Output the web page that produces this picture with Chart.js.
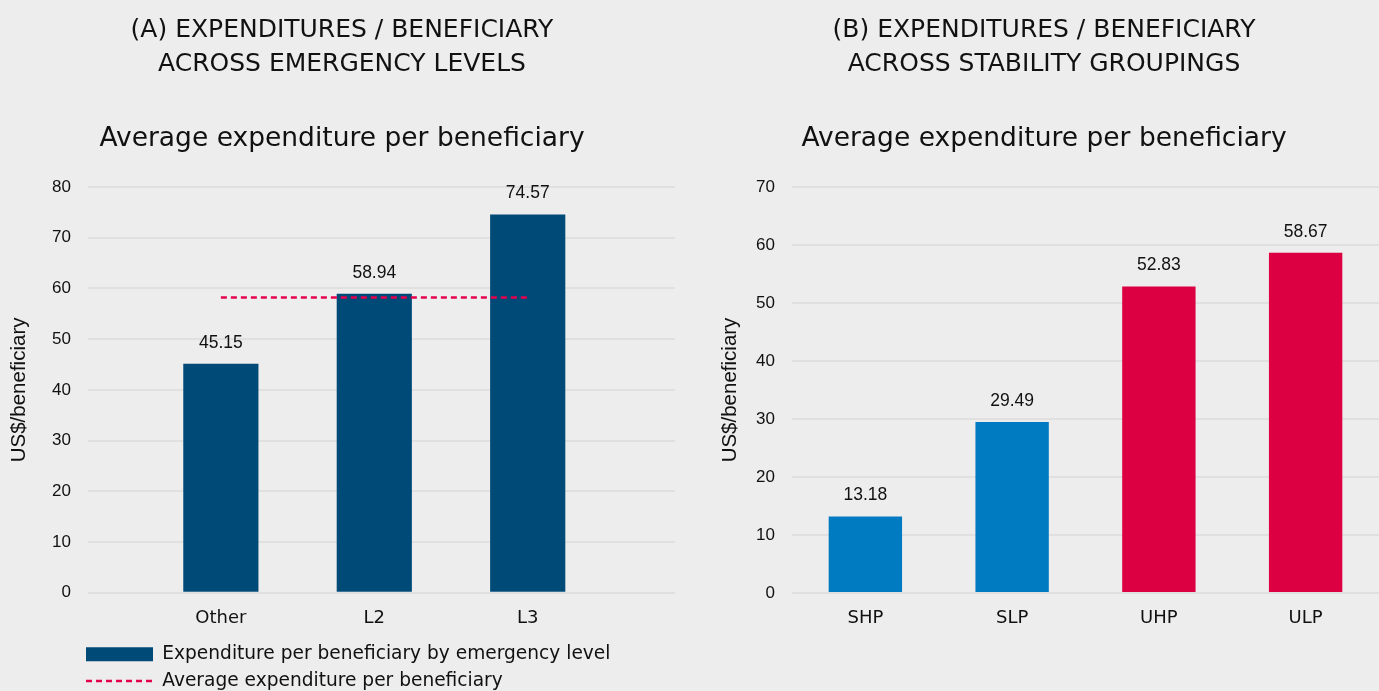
<!DOCTYPE html>
<html>
<head>
<meta charset="utf-8">
<script src="https://cdn.jsdelivr.net/npm/chart.js@4"></script>
<style>
    body { margin: 0; background: #ededed; width: 1379px; height: 691px; overflow: hidden; position: relative; }
    .panel { position: absolute; top: 0; height: 691px; }
    #panel-a { left: 0; width: 684px; }
    #panel-b { left: 709px; width: 670px; }
</style>
</head>
<body>
<div class="panel" id="panel-a"><canvas id="chart-a"></canvas></div>
<div class="panel" id="panel-b"><canvas id="chart-b"></canvas></div>
<script>
// Data
const levelLabels = ['Other', 'L2', 'L3'];
const levelValues = [45.15, 58.94, 74.57];
const levelAverage = 58.2;

const groupLabels = ['SHP', 'SLP', 'UHP', 'ULP'];
const groupValues = [13.18, 29.49, 52.83, 58.67];
const groupColors = ['#007ac0', '#007ac0', '#dc0042', '#dc0042'];

const leftTicks = [0, 10, 20, 30, 40, 50, 60, 70, 80];
const rightTicks = [0, 10, 20, 30, 40, 50, 60, 70];

const darkBlue = '#004a78';
const avgRed = '#e3004c';
const avgDash = [6, 4];
const textColor = '#111111';
const gridColor = '#e0e0e0';

// Shared pieces
const titleFont = { family: 'DejaVu Sans', size: 25, weight: 'normal', lineHeight: 1.36 };
const subtitleFont = { family: 'DejaVu Sans', size: 26.5, weight: 'normal', lineHeight: 1.2 };

// value labels above bars
const valueLabels = {
    id: 'valueLabels',
    afterDatasetsDraw(chart, args, opts) {
        const ctx = chart.ctx;
        const meta = chart.getDatasetMeta(0);
        ctx.save();
        ctx.font = '17.5px "Liberation Sans"';
        ctx.fillStyle = textColor;
        ctx.textAlign = 'center';
        ctx.textBaseline = 'middle';
        meta.data.forEach((bar, i) => {
            ctx.fillText(opts.values[i].toFixed(2), bar.x, bar.y - 21);
        });
        ctx.restore();
    }
};

// move the legend to sit under the plot, left aligned
const legendShift = {
    id: 'legendShift',
    afterLayout(chart) {
        if (!chart.legend) return;
        chart.legend.left += 69;
        chart.legend.top += 7.6;
    }
};

function yScale(max, ticks, titlePad, width) {
    return {
        min: 0,
        max: max,
        afterBuildTicks: axis => { axis.ticks = ticks.map(v => ({ value: v })); },
        afterFit: scale => { scale.width = width; },
        grid: { color: gridColor, lineWidth: 2, drawTicks: false },
        border: { display: false },
        ticks: {
            padding: 17,
            color: textColor,
            font: { family: 'Liberation Sans', size: 17 }
        },
        title: {
            display: true,
            text: 'US$/beneficiary',
            color: textColor,
            font: { family: 'Liberation Sans', size: 20.5, lineHeight: 1 },
            padding: { top: titlePad, bottom: 0 }
        }
    };
}

const xTicks = {
    padding: 15,
    color: textColor,
    font: { family: 'DejaVu Sans', size: 18 }
};

function titles(lines) {
    return {
        title: {
            display: true,
            text: lines,
            color: textColor,
            font: titleFont,
            padding: { top: 13, bottom: 0 }
        },
        subtitle: {
            display: true,
            text: 'Average expenditure per beneficiary',
            color: textColor,
            font: subtitleFont,
            padding: { top: 42.1, bottom: 32.1 }
        }
    };
}

// (A) emergency levels
new Chart(document.getElementById('chart-a'), {
    type: 'bar',
    data: {
        datasets: [{
            label: 'Expenditure per beneficiary by emergency level',
            data: levelValues.map((v, i) => ({ x: i, y: v })),
            backgroundColor: darkBlue,
            borderWidth: 0,
            barPercentage: 0.49,
            categoryPercentage: 1,
            order: 1
        }, {
            type: 'line',
            label: 'Average expenditure per beneficiary',
            data: levelLabels.map((c, i) => ({ x: i, y: levelAverage })),
            borderColor: avgRed,
            borderWidth: 2.5,
            borderDash: avgDash,
            pointRadius: 0,
            fill: false,
            order: 0
        }]
    },
    options: {
        responsive: true,
        maintainAspectRatio: false,
        animation: false,
        layout: { padding: { left: 9, right: 9, top: 0, bottom: -1.6 } },
        scales: {
            x: {
                type: 'linear',
                offset: false,
                min: -0.866,
                max: 2.96,
                afterBuildTicks: axis => { axis.ticks = levelLabels.map((c, i) => ({ value: i })); },
                afterFit: scale => { scale.height = 36.6; },
                grid: { display: false, drawTicks: false },
                border: { display: false },
                ticks: { ...xTicks, callback: v => levelLabels[v] }
            },
            y: yScale(80, leftTicks, 0, 79)
        },
        plugins: {
            ...titles(['(A) EXPENDITURES / BENEFICIARY', 'ACROSS EMERGENCY LEVELS']),
            legend: {
                display: true,
                position: 'bottom',
                align: 'start',
                labels: {
                    usePointStyle: true,
                    pointStyleWidth: 67,
                    boxHeight: 14,
                    padding: 8,
                    color: textColor,
                    font: { family: 'DejaVu Sans', size: 18.6 },
                    sort: (a, b) => a.datasetIndex - b.datasetIndex,
                    generateLabels: chart => {
                        const items = Chart.defaults.plugins.legend.labels.generateLabels(chart);
                        items.forEach(it => {
                            if (it.datasetIndex === 0) {
                                it.pointStyle = 'rect';
                            } else {
                                it.pointStyle = 'line';
                                it.strokeStyle = avgRed;
                                it.lineDash = avgDash;
                                it.lineWidth = 2.5;
                            }
                        });
                        return items;
                    }
                }
            },
            tooltip: { enabled: false },
            valueLabels: { values: levelValues }
        }
    },
    plugins: [valueLabels, legendShift]
});

// (B) stability groupings
new Chart(document.getElementById('chart-b'), {
    type: 'bar',
    data: {
        labels: groupLabels,
        datasets: [{
            label: 'Expenditure per beneficiary',
            data: groupValues,
            backgroundColor: groupColors,
            borderWidth: 0,
            barPercentage: 0.5,
            categoryPercentage: 1
        }]
    },
    options: {
        responsive: true,
        maintainAspectRatio: false,
        animation: false,
        layout: { padding: { left: 0, right: 0, top: 0, bottom: 61.4 } },
        scales: {
            x: {
                afterFit: scale => { scale.height = 36.6; },
                grid: { display: false, drawTicks: false },
                border: { display: false },
                ticks: xTicks
            },
            y: yScale(70, rightTicks, 11.5, 83)
        },
        plugins: {
            ...titles(['(B) EXPENDITURES / BENEFICIARY', 'ACROSS STABILITY GROUPINGS']),
            legend: { display: false },
            tooltip: { enabled: false },
            valueLabels: { values: groupValues }
        }
    },
    plugins: [valueLabels]
});
</script>
</body>
</html>
